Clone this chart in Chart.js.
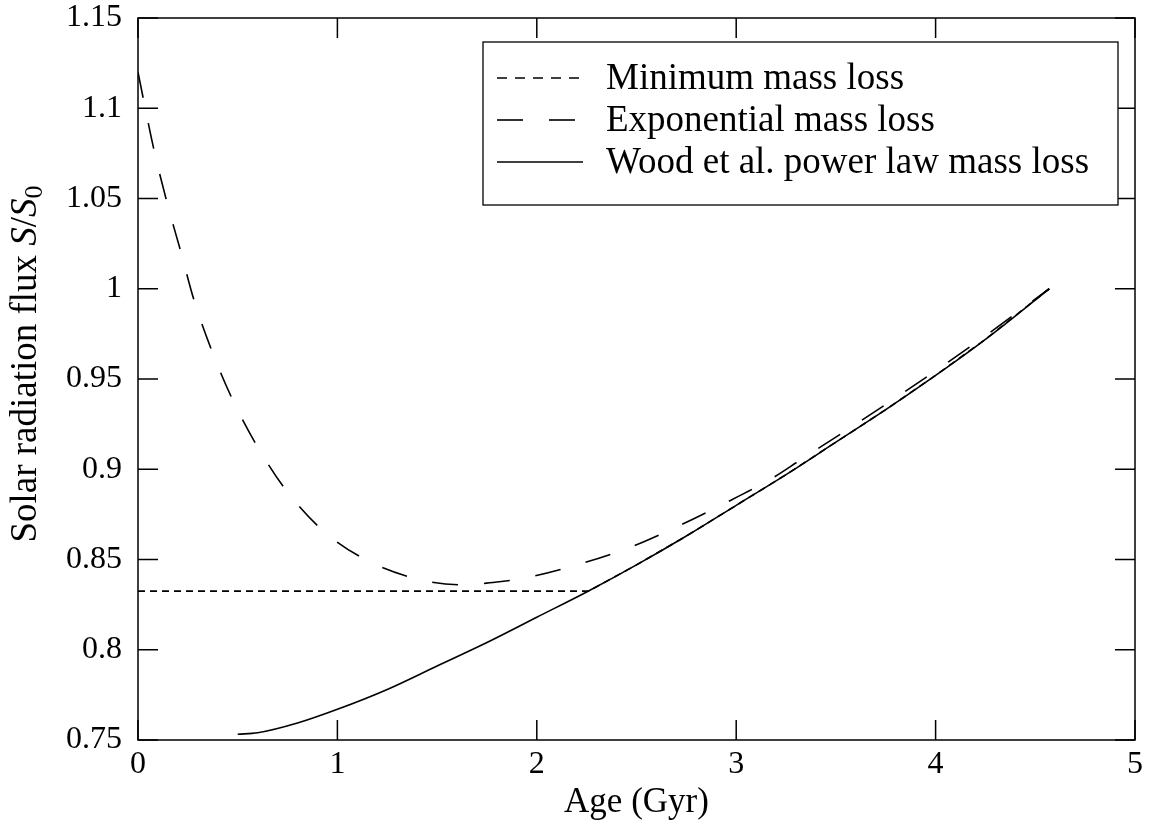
<!DOCTYPE html>
<html>
<head>
<meta charset="utf-8">
<script src="https://cdn.jsdelivr.net/npm/chart.js@4"></script>
<style>
  html, body { margin: 0; padding: 0; background: #fff; }
  #wrap { width: 1153px; height: 828px; }
</style>
</head>
<body>
<div id="wrap"><canvas id="grafico" width="1153" height="828"></canvas></div>
<script>
// valores
const xTicks = [0, 1, 2, 3, 4, 5];
const xTickLabels = ['0', '1', '2', '3', '4', '5'];
const yTicks = [0.75, 0.8, 0.85, 0.9, 0.95, 1.0, 1.05, 1.1, 1.15];
const yTickLabels = ['0.75', '0.8', '0.85', '0.9', '0.95', '1', '1.05', '1.1', '1.15'];

const etiquetas = ['Minimum mass loss', 'Exponential mass loss', 'Wood et al. power law mass loss'];

const edadMin = [0, 2.26, 2.5, 2.75, 3.0, 3.25, 3.5, 3.75, 4.0, 4.25, 4.57];
const flujoMin = [0.8325, 0.8325, 0.847, 0.863, 0.880, 0.897, 0.915, 0.933, 0.952, 0.972, 1.0];

const edadExp = [0, 0.04, 0.08, 0.145, 0.216, 0.28, 0.376, 0.481, 0.607, 0.752, 0.938, 1.158, 1.409, 1.615, 1.8, 1.95, 2.2, 2.45, 2.7, 2.94, 3.18, 3.32, 3.6, 3.9, 4.2, 4.57];
const flujoExp = [1.120, 1.098, 1.077, 1.048, 1.020, 0.994, 0.964, 0.937, 0.911, 0.887, 0.865, 0.849, 0.839, 0.836, 0.8375, 0.840, 0.847, 0.856, 0.868, 0.881, 0.895, 0.905, 0.925, 0.947, 0.970, 1.0];

const edadWood = [0.5, 0.6, 0.8, 1.0, 1.25, 1.5, 1.75, 2.0, 2.25, 2.5, 2.75, 3.0, 3.25, 3.5, 3.75, 4.0, 4.25, 4.57];
const flujoWood = [0.7532, 0.754, 0.7594, 0.767, 0.778, 0.791, 0.804, 0.818, 0.832, 0.847, 0.863, 0.880, 0.897, 0.915, 0.933, 0.952, 0.972, 1.0];

const serif = '"Liberation Serif", "DejaVu Serif", serif';

const aPuntos = (xs, ys) => xs.map((x, i) => ({ x, y: ys[i] }));

const serie = (label, xs, ys, dash, suave) => ({
  label,
  data: aPuntos(xs, ys),
  borderColor: '#000',
  borderWidth: 1.6,
  borderDash: dash,
  pointRadius: 0,
  fill: false,
  tension: 0,
  cubicInterpolationMode: suave ? 'monotone' : 'default'
});

// marco, marcas interiores, leyenda y titulo del eje y
const decoracion = {
  id: 'decoracion',
  afterDraw(chart) {
    const ctx = chart.ctx;
    const a = chart.chartArea;
    const sx = chart.scales.x;
    const sy = chart.scales.y;
    const largo = 20;

    ctx.save();
    ctx.strokeStyle = '#000';
    ctx.lineWidth = 1.5;
    ctx.setLineDash([]);
    ctx.strokeRect(a.left, a.top, a.right - a.left, a.bottom - a.top);

    ctx.beginPath();
    xTicks.forEach(v => {
      const px = sx.getPixelForValue(v);
      ctx.moveTo(px, a.bottom); ctx.lineTo(px, a.bottom - largo);
      ctx.moveTo(px, a.top); ctx.lineTo(px, a.top + largo);
    });
    yTicks.forEach(v => {
      const py = sy.getPixelForValue(v);
      ctx.moveTo(a.left, py); ctx.lineTo(a.left + largo, py);
      ctx.moveTo(a.right, py); ctx.lineTo(a.right - largo, py);
    });
    ctx.stroke();

    // leyenda
    const caja = { x: 483, y: 42, w: 635, h: 163 };
    ctx.fillStyle = '#fff';
    ctx.fillRect(caja.x, caja.y, caja.w, caja.h);
    ctx.lineWidth = 1.3;
    ctx.strokeRect(caja.x, caja.y, caja.w, caja.h);
    ctx.font = '37px ' + serif;
    ctx.textBaseline = 'middle';
    ctx.textAlign = 'left';
    ctx.fillStyle = '#000';
    chart.data.datasets.forEach((ds, i) => {
      const fy = caja.y + 36 + i * 42;
      ctx.beginPath();
      ctx.lineWidth = 1.6;
      ctx.setLineDash(i === 0 ? [10, 8] : (ds.borderDash || []));
      ctx.moveTo(caja.x + 14, fy);
      ctx.lineTo(caja.x + 100, fy);
      ctx.stroke();
      ctx.setLineDash([]);
      ctx.fillText(ds.label, caja.x + 123, fy + 1);
    });

    // titulo del eje y con S/S0
    const partes = [
      { t: 'Solar radiation flux ', f: '37px ' + serif, dy: 0 },
      { t: 'S', f: 'italic 37px ' + serif, dy: 0 },
      { t: '/', f: '37px ' + serif, dy: 0 },
      { t: 'S', f: 'italic 37px ' + serif, dy: 0 },
      { t: '0', f: '26px ' + serif, dy: 6 }
    ];
    let total = 0;
    partes.forEach(p => { ctx.font = p.f; p.w = ctx.measureText(p.t).width; total += p.w; });
    ctx.translate(36, 364);
    ctx.rotate(-Math.PI / 2);
    ctx.textBaseline = 'alphabetic';
    let cx = -total / 2;
    partes.forEach(p => {
      ctx.font = p.f;
      ctx.fillText(p.t, cx, p.dy);
      cx += p.w;
    });
    ctx.restore();
  }
};

const ctx = document.getElementById('grafico').getContext('2d');

new Chart(ctx, {
  type: 'line',
  data: {
    datasets: [
      serie(etiquetas[0], edadMin, flujoMin, [7, 5], false),
      serie(etiquetas[1], edadExp, flujoExp, [26, 26], true),
      serie(etiquetas[2], edadWood, flujoWood, [], true)
    ]
  },
  options: {
    responsive: false,
    animation: false,
    devicePixelRatio: 1,
    layout: { padding: { top: 18, right: 18, left: 0, bottom: 0 } },
    plugins: {
      legend: { display: false },
      tooltip: { enabled: false }
    },
    scales: {
      x: {
        type: 'linear',
        min: 0,
        max: 5,
        afterBuildTicks: s => { s.ticks = xTicks.map(v => ({ value: v })); },
        afterFit: s => { s.height = 88; s.paddingLeft = 0; s.paddingRight = 0; },
        ticks: {
          color: '#000',
          font: { family: serif, size: 32 },
          padding: 5,
          maxRotation: 0,
          autoSkip: false,
          callback: (v) => xTickLabels[xTicks.indexOf(v)]
        },
        grid: { display: false, drawTicks: false },
        border: { display: false },
        title: {
          display: true,
          text: 'Age (Gyr)',
          color: '#000',
          font: { family: serif, size: 35 },
          padding: { top: 0, bottom: 4 }
        }
      },
      y: {
        type: 'linear',
        min: 0.75,
        max: 1.15,
        afterBuildTicks: s => { s.ticks = yTicks.map(v => ({ value: v })); },
        afterFit: s => { s.width = 138; s.paddingTop = 0; s.paddingBottom = 0; },
        ticks: {
          color: '#000',
          font: { family: serif, size: 32 },
          padding: 16,
          autoSkip: false,
          callback: (v) => yTickLabels[yTicks.findIndex(t => Math.abs(t - v) < 1e-9)]
        },
        grid: { display: false, drawTicks: false },
        border: { display: false }
      }
    }
  },
  plugins: [decoracion]
});
</script>
</body>
</html>
